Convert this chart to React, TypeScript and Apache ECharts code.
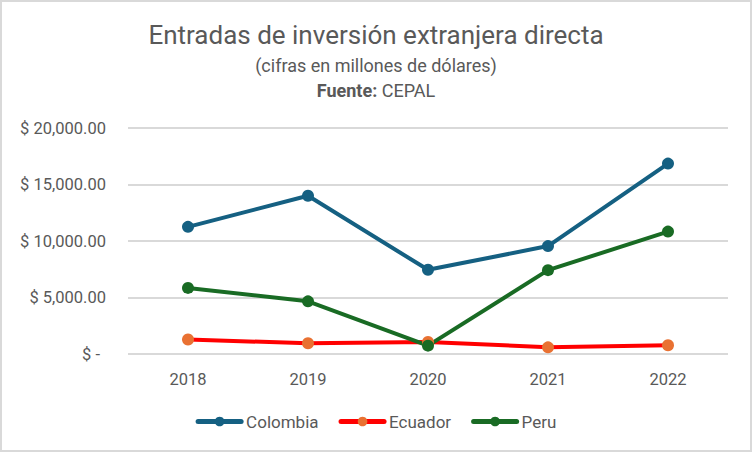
import React, { useEffect, useRef } from "react";
import * as echarts from "echarts";

const years = ["2018", "2019", "2020", "2021", "2022"];
const colombia = [11250, 14000, 7450, 9550, 16850];
const ecuador = [1280, 950, 1070, 590, 770];
const peru = [5850, 4660, 740, 7420, 10830];
const seriesNames = ["Colombia", "Ecuador", "Peru"];

const FONT = "Roboto, 'Noto Sans', sans-serif";
const GREY = "#595959";

export default function App() {
  const ref = useRef<HTMLDivElement>(null);
  useEffect(() => {
    if (!ref.current) return;
    const chart = echarts.init(ref.current, undefined, { renderer: "svg" });
    const fmt = (v: number) =>
      v === 0
        ? "{z|$ -}"
        : "$ " + v.toLocaleString("en-US", { minimumFractionDigits: 2, maximumFractionDigits: 2 });
    chart.setOption({
      animation: false,
      backgroundColor: "#fff",
      textStyle: { fontFamily: FONT },
      graphic: [
        {
          type: "rect",
          silent: true,
          shape: { x: 1, y: 1, width: 750, height: 450 },
          style: { fill: "none", stroke: "#d9d9d9", lineWidth: 2 },
          z: 100,
        },
      ],
      title: [
        {
          text: "Entradas de inversión extranjera directa",
          left: "center",
          top: 17,
          textStyle: { fontSize: 26, fontWeight: "normal", color: GREY, fontFamily: FONT },
        },
        {
          text: "(cifras en millones de dólares)",
          left: "center",
          top: 51,
          textStyle: { fontSize: 18, fontWeight: "normal", color: GREY, fontFamily: FONT },
        },
        {
          text: "{b|Fuente:} {n|CEPAL}",
          left: "center",
          top: 76,
          textStyle: {
            fontFamily: FONT,
            rich: {
              b: { fontSize: 18, fontWeight: "bold", color: GREY, fontFamily: FONT },
              n: { fontSize: 18, fontWeight: "normal", color: GREY, fontFamily: FONT },
            },
          },
        },
      ],
      legend: {
        data: seriesNames,
        top: 408,
        left: "center",
        itemWidth: 43,
        itemHeight: 12,
        itemGap: 20,
        lineStyle: { width: 5, cap: "round" },
        textStyle: { fontSize: 17, color: GREY, fontFamily: FONT },
      },
      grid: { left: 128, right: 24, top: 128, bottom: 98, containLabel: false },
      xAxis: {
        type: "category",
        data: years,
        boundaryGap: true,
        axisLine: { show: false },
        axisTick: { show: false },
        axisLabel: { fontSize: 16.5, color: GREY, margin: 17, fontFamily: FONT },
      },
      yAxis: {
        type: "value",
        min: 0,
        max: 20000,
        interval: 5000,
        axisLine: { show: false },
        axisTick: { show: false },
        splitLine: { lineStyle: { color: "#d9d9d9", width: 2 } },
        axisLabel: {
          fontSize: 16.5,
          color: GREY,
          margin: 22,
          formatter: fmt,
          fontFamily: FONT,
          rich: { z: { fontSize: 16.5, color: GREY, fontFamily: FONT, padding: [0, 6, 0, 0] } },
        },
      },
      series: [
        {
          name: seriesNames[0],
          type: "line",
          data: colombia,
          symbol: "circle",
          symbolSize: 12,
          lineStyle: { color: "#156082", width: 4 },
          itemStyle: { color: "#156082" },
        },
        {
          name: seriesNames[1],
          type: "line",
          data: ecuador,
          symbol: "circle",
          symbolSize: 12,
          lineStyle: { color: "#ff0000", width: 4 },
          itemStyle: { color: "#e97132" },
        },
        {
          name: seriesNames[2],
          type: "line",
          data: peru,
          symbol: "circle",
          symbolSize: 12,
          lineStyle: { color: "#196b24", width: 4 },
          itemStyle: { color: "#196b24" },
        },
      ],
    });
    return () => chart.dispose();
  }, []);
  return (
    <div
      ref={ref}
      style={{
        position: "fixed",
        left: 0,
        top: 0,
        width: 752,
        height: 452,
        background: "#fff",
      }}
    />
  );
}
